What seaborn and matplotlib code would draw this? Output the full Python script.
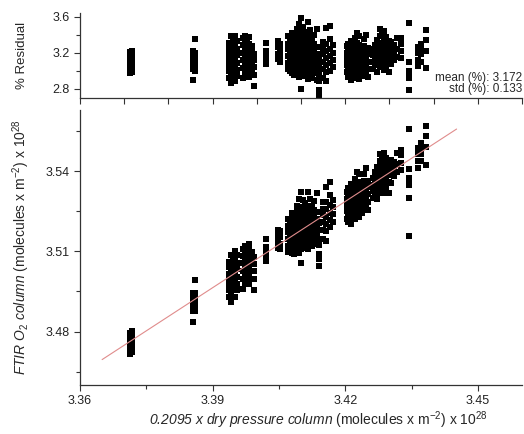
import numpy as np
import pandas as pd
import seaborn as sns
import matplotlib.pyplot as plt
from matplotlib.ticker import MultipleLocator, FormatStrFormatter

sns.set_style("ticks")
plt.rcParams['font.family'] = ['Liberation Sans', 'DejaVu Sans']
plt.rcParams['mathtext.fontset'] = 'custom'
plt.rcParams['mathtext.rm'] = 'Liberation Sans'
plt.rcParams['mathtext.it'] = 'Liberation Sans:italic'
plt.rcParams['mathtext.sf'] = 'Liberation Sans:italic'

# x of each vertical strip of points (0.2095 x dry pressure column, 1e28 molec/m2)
col_x = [
    3.3713, 3.3717,
    3.3855, 3.3860,
    3.3937, 3.3941, 3.3946, 3.3951, 3.3956,
    3.3968, 3.3973, 3.3978, 3.3983, 3.3988, 3.3993,
    3.4020,
    3.4048, 3.4053,
    3.4070, 3.4075, 3.4080, 3.4085, 3.4090, 3.4095, 3.4100, 3.4105,
    3.4110, 3.4115, 3.4120, 3.4125, 3.4130, 3.4136, 3.4141,
    3.4150, 3.4157, 3.4165, 3.4173,
    3.4203, 3.4207, 3.4212, 3.4217, 3.4222, 3.4227, 3.4232, 3.4237, 3.4242, 3.4247, 3.4252,
    3.4264, 3.4268, 3.4273, 3.4278, 3.4283, 3.4288, 3.4293, 3.4298, 3.4303, 3.4310, 3.4317,
    3.4327,
    3.4344,
    3.4365, 3.4372, 3.4383,
]

# % residual of FTIR O2 vs 0.2095 x dry pressure column, per strip
col_resid = [
    [2.97, 3.01, 3.05, 3.09, 3.13, 3.17, 3.21],
    [2.99, 3.03, 3.07, 3.11, 3.15, 3.19, 3.22],
    [2.90, 3.02, 3.08, 3.12, 3.18, 3.22],
    [3.00, 3.05, 3.10, 3.15, 3.20, 3.35],
    [2.92, 3.00, 3.05, 3.10, 3.14, 3.18, 3.25, 3.31],
    [2.86, 2.95, 3.02, 3.08, 3.12, 3.20, 3.30, 3.38],
    [2.90, 2.98, 3.04, 3.11, 3.16, 3.22, 3.27, 3.35],
    [2.88, 2.97, 3.06, 3.13, 3.19, 3.28, 3.39],
    [2.94, 3.01, 3.09, 3.17, 3.24, 3.33],
    [2.92, 3.03, 3.12, 3.20, 3.28, 3.36],
    [2.96, 3.07, 3.15, 3.22, 3.31, 3.38],
    [2.98, 3.05, 3.10, 3.18, 3.26, 3.34],
    [2.93, 3.01, 3.09, 3.16, 3.24, 3.30, 3.37],
    [2.97, 3.06, 3.14, 3.21, 3.27],
    [2.83, 2.95, 3.04, 3.12, 3.19],
    [3.07, 3.12, 3.18, 3.22, 3.31],
    [3.13, 3.19, 3.26, 3.33],
    [3.10, 3.16, 3.23, 3.30],
    [3.02, 3.08, 3.16, 3.24, 3.30, 3.38],
    [3.00, 3.05, 3.11, 3.19, 3.27, 3.34],
    [2.97, 3.04, 3.10, 3.15, 3.21, 3.28, 3.36, 3.42],
    [2.95, 3.02, 3.08, 3.13, 3.18, 3.23, 3.29, 3.35, 3.40],
    [2.99, 3.06, 3.12, 3.17, 3.22, 3.27, 3.33, 3.39, 3.46],
    [2.93, 3.01, 3.07, 3.14, 3.20, 3.25, 3.31, 3.37, 3.44, 3.52],
    [2.80, 2.96, 3.03, 3.09, 3.15, 3.21, 3.26, 3.32, 3.38, 3.58],
    [2.98, 3.05, 3.11, 3.16, 3.22, 3.28, 3.34, 3.41, 3.48],
    [2.94, 3.00, 3.07, 3.13, 3.19, 3.24, 3.30, 3.36, 3.43],
    [2.91, 2.99, 3.06, 3.12, 3.18, 3.25, 3.31, 3.39, 3.54],
    [2.96, 3.03, 3.10, 3.17, 3.23, 3.29, 3.35, 3.45],
    [2.92, 3.00, 3.08, 3.15, 3.21, 3.28, 3.36],
    [2.97, 3.05, 3.14, 3.22, 3.30, 3.40],
    [2.90, 3.02, 3.10, 3.18, 3.26, 3.46],
    [2.65, 2.72, 2.78, 2.88, 2.95, 3.04, 3.12],
    [2.92, 3.02, 3.10, 3.18, 3.25, 3.32],
    [2.88, 2.98, 3.06, 3.14, 3.22, 3.30, 3.47],
    [3.00, 3.08, 3.16, 3.24, 3.35, 3.50],
    [3.04, 3.12, 3.20, 3.28],
    [2.98, 3.06, 3.13, 3.20, 3.27],
    [2.93, 3.01, 3.09, 3.15, 3.22, 3.30],
    [2.90, 2.97, 3.04, 3.11, 3.18, 3.25, 3.33],
    [2.95, 3.02, 3.08, 3.14, 3.21, 3.28],
    [2.92, 3.00, 3.07, 3.12, 3.19, 3.26, 3.36],
    [2.96, 3.05, 3.10, 3.17, 3.24, 3.31, 3.42],
    [2.91, 2.99, 3.06, 3.13, 3.20, 3.29, 3.38],
    [2.94, 3.03, 3.11, 3.16, 3.23],
    [2.97, 3.04, 3.12, 3.19, 3.27, 3.35],
    [3.00, 3.08, 3.15, 3.22, 3.40],
    [2.93, 3.02, 3.10, 3.18, 3.25],
    [3.02, 3.10, 3.17, 3.24],
    [3.06, 3.14, 3.21, 3.29],
    [2.99, 3.09, 3.18, 3.26, 3.34],
    [3.04, 3.12, 3.20, 3.28, 3.38, 3.46],
    [3.08, 3.15, 3.23, 3.31, 3.40],
    [3.01, 3.11, 3.19, 3.27, 3.35, 3.44],
    [3.05, 3.13, 3.22, 3.30, 3.37],
    [2.98, 3.10, 3.18, 3.25, 3.33],
    [3.07, 3.16, 3.24, 3.32],
    [3.12, 3.20, 3.28],
    [3.15, 3.24, 3.36],
    [3.14, 3.22, 3.30, 3.36],
    [2.37, 2.78, 2.92, 2.96, 3.00, 3.10, 3.53],
    [3.05, 3.12, 3.20, 3.26],
    [3.10, 3.18, 3.24, 3.30],
    [3.03, 3.22, 3.34, 3.45],
]

# fitted line end points
fit_x = [3.365, 3.4452]
fit_y = [3.4695, 3.5558]

mean_txt = "mean (%): 3.172"
std_txt = "std (%): 0.133"

rows = []
for x, rs in zip(col_x, col_resid):
    for r in rs:
        rows.append((x, r))
df = pd.DataFrame(rows, columns=['dry', 'resid'])
df['ftir'] = df['dry'] * (1 + df['resid'] / 100)

fig = plt.figure(figsize=(5.24, 4.34), dpi=100)
ax_top = fig.add_axes([0.1527, 0.775, 0.8435, 0.195])
ax_bot = fig.add_axes([0.1527, 0.113, 0.8435, 0.634])

# residual panel
sns.scatterplot(data=df, x='dry', y='resid', marker='s', s=14, color='black',
                linewidth=0, ax=ax_top)
ax_top.set_xlim(3.36, 3.46)
ax_top.set_ylim(2.70, 3.64)
ax_top.xaxis.set_major_locator(MultipleLocator(0.01))
ax_top.set_xticklabels([])
ax_top.yaxis.set_major_locator(MultipleLocator(0.4))
ax_top.yaxis.set_minor_locator(MultipleLocator(0.2))
ax_top.yaxis.set_major_formatter(FormatStrFormatter('%.1f'))
ax_top.set_xlabel('')
ax_top.set_ylabel('% Residual', fontsize=9.5)
ax_top.yaxis.set_label_coords(-0.118, 0.5)
ax_top.text(1.0, 0.23, mean_txt, transform=ax_top.transAxes, ha='right',
            va='center', fontsize=8.5)
ax_top.text(1.0, 0.10, std_txt, transform=ax_top.transAxes, ha='right',
            va='center', fontsize=8.5)

# main panel
sns.scatterplot(data=df, x='dry', y='ftir', marker='s', s=14, color='black',
                linewidth=0, ax=ax_bot)
sns.lineplot(x=fit_x, y=fit_y, color='#e08c8c', linewidth=0.8, ax=ax_bot)
ax_bot.set_xlim(3.36, 3.46)
ax_bot.set_ylim(3.460, 3.563)
ax_bot.xaxis.set_major_locator(MultipleLocator(0.03))
ax_bot.xaxis.set_minor_locator(MultipleLocator(0.015))
ax_bot.yaxis.set_major_locator(MultipleLocator(0.03))
ax_bot.yaxis.set_minor_locator(MultipleLocator(0.015))
ax_bot.xaxis.set_major_formatter(FormatStrFormatter('%.2f'))
ax_bot.yaxis.set_major_formatter(FormatStrFormatter('%.2f'))
ax_bot.set_xlabel(r'$\mathsf{0.2095\ x\ dry\ pressure\ column}$ (molecules x m$^{-2}$) x 10$^{28}$',
                  fontsize=10)
ax_bot.xaxis.set_label_coords(0.54, -0.09)
ax_bot.set_ylabel(r'$\mathsf{FTIR\ O}_2$ $\mathsf{column}$ (molecules x m$^{-2}$) x 10$^{28}$',
                  fontsize=10)
ax_bot.yaxis.set_label_coords(-0.108, 0.5)

for ax in (ax_top, ax_bot):
    sns.despine(ax=ax)
    for s in ('left', 'bottom'):
        ax.spines[s].set_color('#333333')
        ax.spines[s].set_linewidth(0.9)
    ax.tick_params(which='major', length=4, width=0.8, labelsize=9, color='#333333',
                   labelcolor='#222222')
    ax.tick_params(which='minor', length=3, width=0.8, color='#333333')

fig.savefig('out.png', dpi=100)
